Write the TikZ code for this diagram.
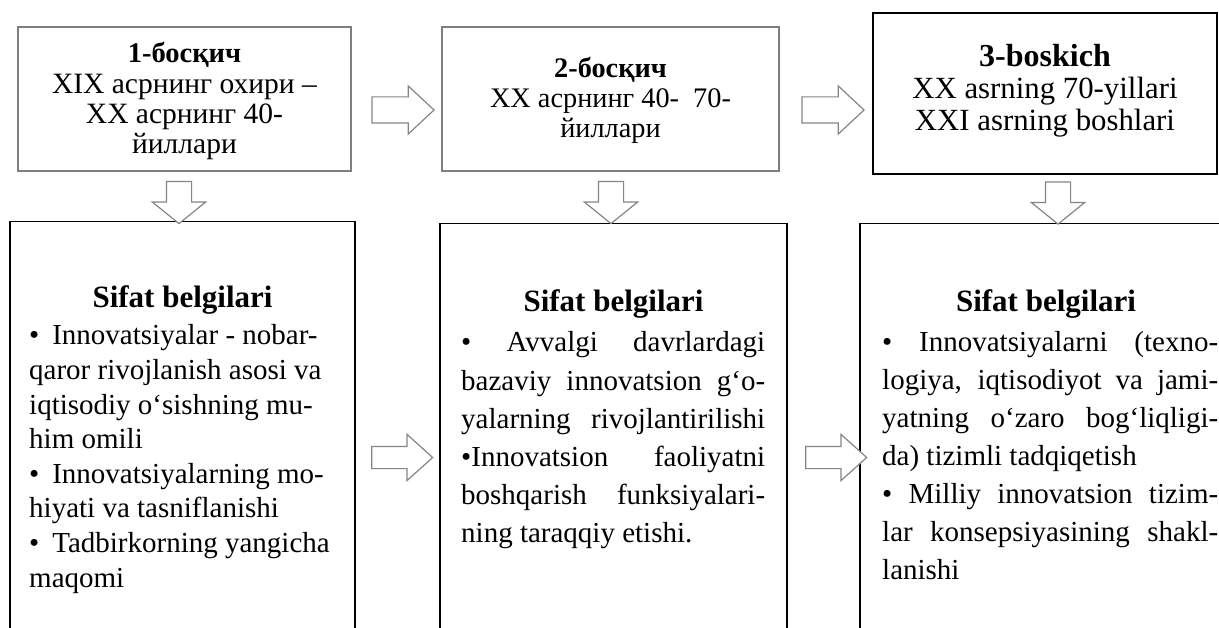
\documentclass[tikz,border=0pt]{standalone}
\usepackage{fontspec}
\setmainfont{Liberation Serif}
\usetikzlibrary{shapes.arrows}
\definecolor{framegray}{HTML}{7F7F7F}
\definecolor{arrowgray}{HTML}{858585}

\begin{document}
\begin{tikzpicture}[x=1pt,y=-1pt,
  stagebox/.style={draw=framegray, line width=1.8pt, inner sep=0},
  stagetext/.style={anchor=base, inner sep=0},
  featbox/.style={draw=black, line width=1.3pt, inner sep=0},
  rarrow/.style={draw=arrowgray, line width=1.2pt, fill=white, single arrow,
    inner xsep=0pt, inner ysep=12.5pt, minimum height=62pt,
    single arrow head extend=11pt, single arrow tip angle=86},
  barrow/.style={rarrow, inner ysep=10.5pt, minimum height=61pt,
    single arrow head extend=12pt, single arrow tip angle=84},
  darrow/.style={draw=arrowgray, line width=1.2pt, fill=white, single arrow,
    rotate=-90, inner xsep=0pt, inner ysep=12pt, minimum height=42pt,
    single arrow head extend=14pt, single arrow tip angle=102},
  heading/.style={anchor=base, inner sep=0, font=\fontsize{31}{34}\selectfont\bfseries},
  body/.style={anchor=base west, inner sep=0}
]
\useasboundingbox (0,0) rectangle (1219,628);
\clip (0,0) rectangle (1219,628);

% stage boxes
\node[stagebox, minimum width=333pt, minimum height=144pt] (s1) at (184.5,99) {};
\node[stagebox, minimum width=337pt, minimum height=144pt] (s2) at (610.5,99) {};
\node[stagebox, draw=black, line width=1.4pt, minimum width=344pt, minimum height=161pt] (s3) at (1045,93.5) {};

\node[stagetext] (s1t) at (s1.center |- 0,63) {\parbox[t]{330pt}{\centering
  \fontsize{29.5}{30.3}\selectfont{\fontsize{28.5}{30.3}\selectfont\bfseries 1-босқич}\\
  XIX асрнинг охири –\\XX асрнинг 40-\\йиллари}};
\node[stagetext] (s2t) at (s2.center |- 0,78) {\parbox[t]{330pt}{\centering
  \fontsize{28.3}{30}\selectfont{\bfseries 2-босқич}\\
  XX асрнинг 40-\ \ 70-\\йиллари}};
\node[stagetext] (s3t) at (s3.center |- 0,67) {\parbox[t]{340pt}{\centering
  \fontsize{30.8}{32}\selectfont{\fontsize{32}{32}\selectfont\bfseries 3-boskich}\\
  XX asrning 70-yillari\\XXI asrning boshlari}};

% feature boxes (open below the page edge)
\node[featbox, minimum width=345pt, minimum height=500pt, anchor=north] (f1) at (182.5,221) {};
\node[featbox, minimum width=347pt, minimum height=500pt, anchor=north] (f2) at (613.5,223) {};
\node[featbox, minimum width=372pt, minimum height=500pt, anchor=north] (f3) at (1046,223) {};

% arrows between stages
\node[rarrow] (a12) at (396,110) {};
\node[rarrow] (a23) at (826,110) {};
\node[darrow] (d1) at (179,197.5) {};
\node[darrow] (d2) at (611,197.5) {};
\node[darrow] (d3) at (1058,198) {};
\node[barrow] (b12) at (396,457.5) {};
\node[barrow] (b23) at (830,457.5) {};

% feature texts
\node[heading] (h1) at (182.5,308) {Sifat belgilari};
\node[heading] (h2) at (613.5,312) {Sifat belgilari};
\node[heading] (h3) at (1046,312) {Sifat belgilari};

\node[body] (t1) at (29,345) {\parbox[t]{310pt}{\fontsize{29}{34.6}\selectfont\raggedright
•\hspace{13pt}Innovatsiyalar - nobar-\\
qaror rivojlanish asosi va\\
iqtisodiy o‘sishning mu-\\
him omili\\
•\hspace{13pt}Innovatsiyalarning mo-\\
hiyati va tasniflanishi\\
•\hspace{13pt}Tadbirkorning yangicha\\
maqomi}};

\node[body] (t2) at (461,352) {\parbox[t]{304pt}{\fontsize{29}{38.2}\selectfont
\makebox[304pt][s]{• Avvalgi davrlardagi}\\
\makebox[304pt][s]{bazaviy innovatsion g‘o-}\\
\makebox[304pt][s]{yalarning rivojlantirilishi}\\
\makebox[304pt][s]{•Innovatsion faoliyatni}\\
\makebox[304pt][s]{boshqarish funksiyalari-}\\
ning taraqqiy etishi.}};

\node[body] (t3) at (882,352) {\parbox[t]{336pt}{\fontsize{29}{38}\selectfont
\makebox[336pt][s]{• Innovatsiyalarni (texno-}\\
\makebox[336pt][s]{logiya, iqtisodiyot va jami-}\\
\makebox[336pt][s]{yatning o‘zaro bog‘liqligi-}\\
da) tizimli tadqiqetish\\
\makebox[336pt][s]{• Milliy innovatsion tizim-}\\
\makebox[336pt][s]{lar konsepsiyasining shakl-}\\
lanishi}};
\end{tikzpicture}
\end{document}
